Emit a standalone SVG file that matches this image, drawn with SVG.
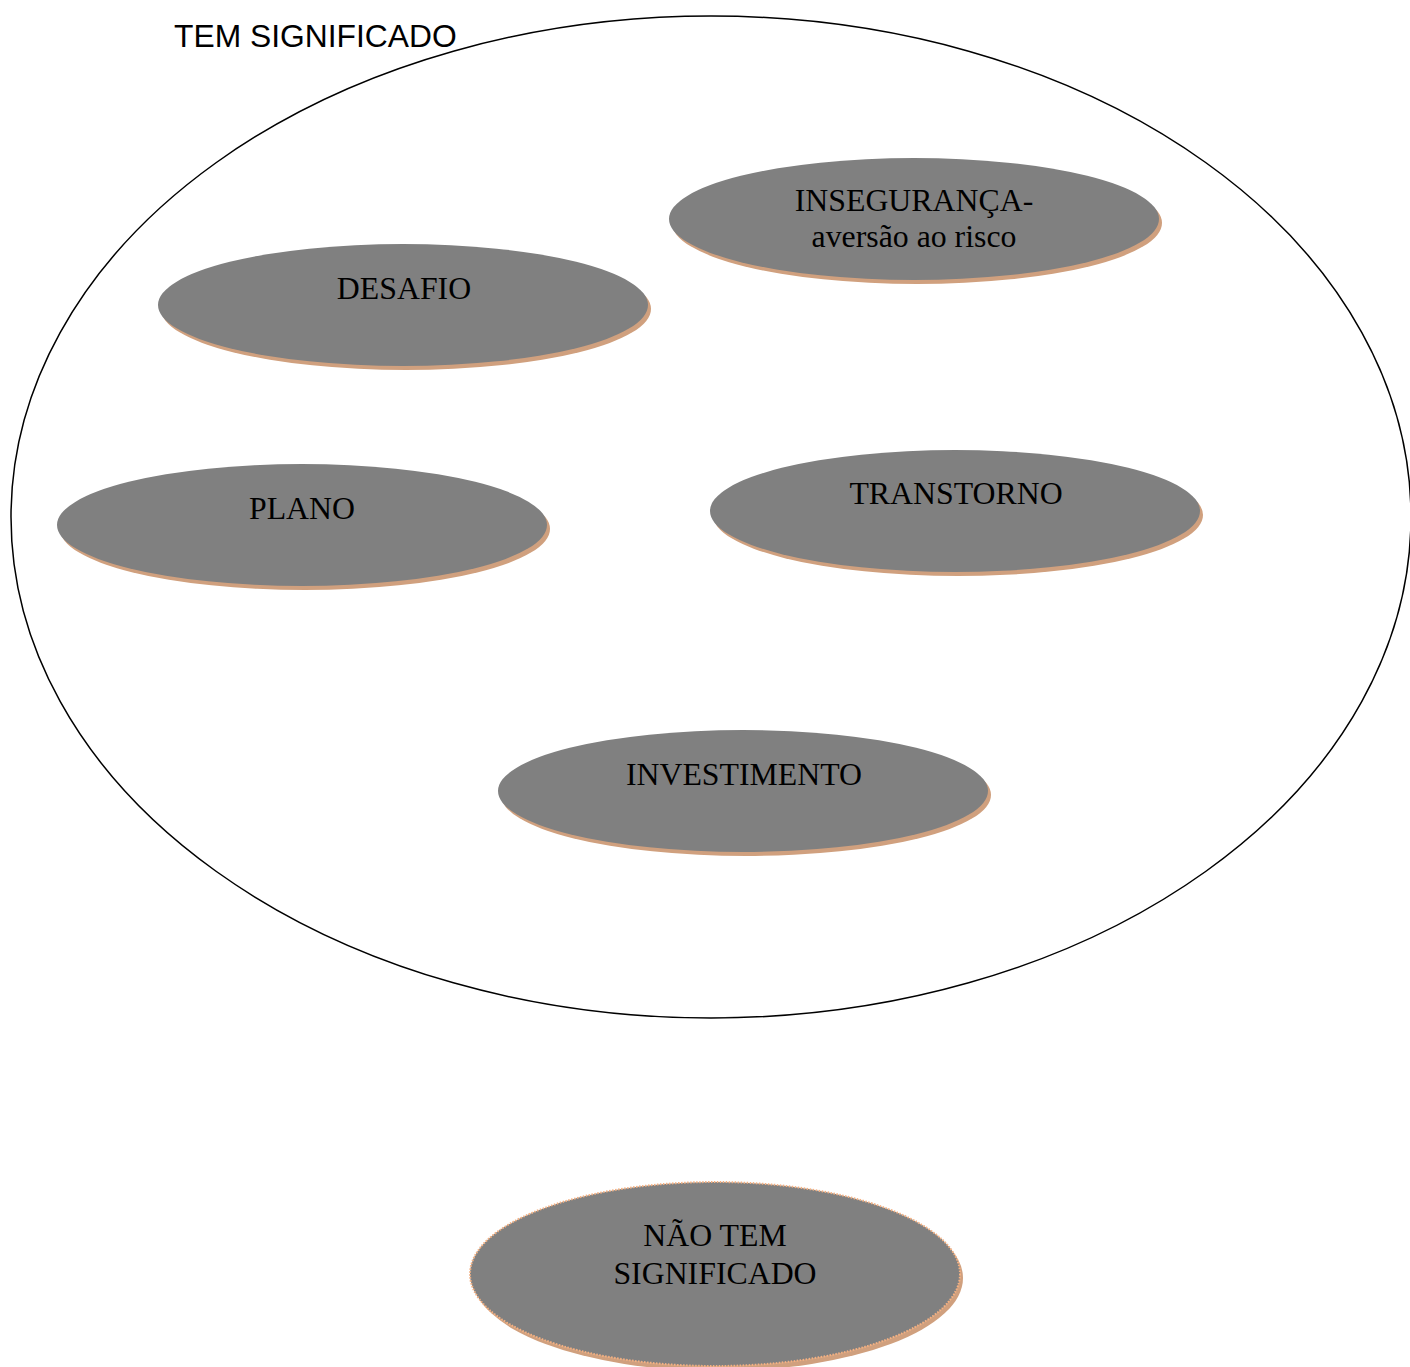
<svg xmlns="http://www.w3.org/2000/svg" width="1410" height="1367" viewBox="0 0 1410 1367">
<style>
.sh{fill:#D0A07E}
.nd{fill:#808080}
.t{font-family:"Liberation Serif","Times New Roman",serif;font-size:31.8px;fill:#000;text-anchor:middle}
</style>
<rect width="1410" height="1367" fill="#fff"/>
<g id="tem-significado">
<ellipse cx="711" cy="517" rx="700" ry="501" fill="none" stroke="#000" stroke-width="1.5"/>
<text x="174" y="47" font-family="'Liberation Sans',Arial,sans-serif" font-size="31.8" fill="#000">TEM SIGNIFICADO</text>
</g>
<g id="inseguranca">
<ellipse class="sh" cx="917" cy="223" rx="245" ry="61"/>
<ellipse class="nd" cx="914" cy="219" rx="245" ry="61"/>
<text class="t" x="914" y="211">INSEGURANÇA-</text>
<text class="t" x="914" y="247">aversão ao risco</text>
</g>
<g id="desafio">
<ellipse class="sh" cx="406" cy="309" rx="245" ry="61"/>
<ellipse class="nd" cx="403" cy="305" rx="245" ry="61"/>
<text class="t" x="404" y="299">DESAFIO</text>
</g>
<g id="plano">
<ellipse class="sh" cx="305" cy="529" rx="245" ry="61"/>
<ellipse class="nd" cx="302" cy="525" rx="245" ry="61"/>
<text class="t" x="302" y="519">PLANO</text>
</g>
<g id="transtorno">
<ellipse class="sh" cx="958" cy="515" rx="245" ry="61"/>
<ellipse class="nd" cx="955" cy="511" rx="245" ry="61"/>
<text class="t" x="956" y="504">TRANSTORNO</text>
</g>
<g id="investimento">
<ellipse class="sh" cx="746" cy="795" rx="245" ry="61"/>
<ellipse class="nd" cx="743" cy="791" rx="245" ry="61"/>
<text class="t" x="744" y="785">INVESTIMENTO</text>
</g>
<g id="nao-tem-significado">
<ellipse class="sh" cx="718" cy="1278" rx="245" ry="93"/>
<ellipse class="nd" cx="715" cy="1274" rx="245" ry="92" stroke="#F4B183" stroke-width="2" stroke-dasharray="1.5 1.5"/>
<text class="t" x="715" y="1246">NÃO TEM</text>
<text class="t" x="715" y="1284">SIGNIFICADO</text>
</g>
<g id="connectors"></g>
</svg>
